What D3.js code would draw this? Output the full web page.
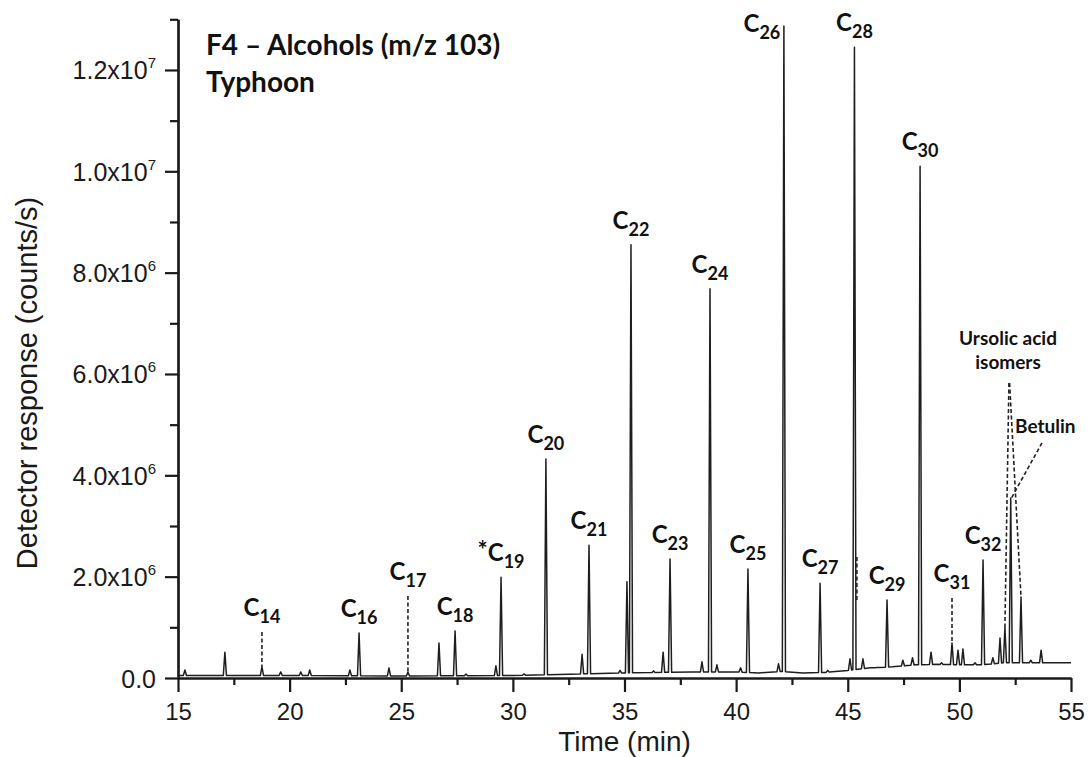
<!DOCTYPE html>
<html>
<head>
<meta charset="utf-8">
<script src="https://cdn.jsdelivr.net/npm/d3@7"></script>
<style>
  html, body { margin: 0; padding: 0; background: #fff; }
  svg { display: block; }
  .ax { font-family: "Liberation Sans", Arial, sans-serif; fill: #1a1a1a; }
  .note { font-family: Lato, "Open Sans", sans-serif; font-weight: 700; fill: #111; }
</style>
</head>
<body>
<svg id="chart" width="1089" height="757"></svg>
<script>
"use strict";

/********/
/* data */
/********/

// retention time (min) and apex response (counts/s) of every visible peak
const peakTimes = [
  15.31, 17.1, 18.76, 19.6, 20.5, 20.9, 22.7, 23.11, 24.45, 25.3,
  26.69, 27.41, 27.9, 29.24, 29.47, 30.5, 31.48, 33.1, 33.41, 34.8,
  35.11, 35.29, 36.3, 36.73, 37.04, 38.47, 38.83, 39.14, 40.2, 40.53,
  41.9, 42.14, 43.76, 44.1, 45.1, 45.3, 45.68, 46.3, 46.76, 47.47,
  47.9, 48.24, 48.73, 49.2, 49.67, 49.94, 50.16, 50.7, 51.06, 51.5,
  51.82, 52.04, 52.3, 52.76, 53.2, 53.66,
];
const peakHeights = [
  0.16e6, 0.51e6, 0.22e6, 0.12e6, 0.12e6, 0.16e6, 0.16e6, 0.89e6, 0.2e6, 0.12e6,
  0.69e6, 0.93e6, 0.08e6, 0.24e6, 1.99e6, 0.08e6, 4.32e6, 0.47e6, 2.62e6, 0.15e6,
  1.9e6, 8.55e6, 0.14e6, 0.51e6, 2.35e6, 0.32e6, 7.68e6, 0.26e6, 0.2e6, 2.15e6,
  0.28e6, 12.87e6, 1.87e6, 0.15e6, 0.38e6, 12.45e6, 0.38e6, 0.2e6, 1.54e6, 0.35e6,
  0.4e6, 10.1e6, 0.51e6, 0.3e6, 0.69e6, 0.55e6, 0.57e6, 0.3e6, 2.33e6, 0.4e6,
  0.79e6, 1.0e6, 3.55e6, 1.6e6, 0.35e6, 0.55e6,
];

// drifting baseline
const baseTimes = [15, 20, 25, 30, 33, 35, 38, 40, 41, 42, 43, 44, 45, 46, 47, 48, 49, 50, 51, 52, 53, 54, 55];
const baseValues = [
  0.05e6, 0.05e6, 0.04e6, 0.05e6, 0.08e6, 0.1e6, 0.12e6, 0.12e6, 0.1e6, 0.13e6,
  0.1e6, 0.11e6, 0.15e6, 0.2e6, 0.22e6, 0.26e6, 0.27e6, 0.26e6, 0.26e6, 0.3e6,
  0.3e6, 0.3e6, 0.3e6,
];

// n-alcohol homologues
const labelNumbers = ["14", "16", "17", "18", "19", "20", "21", "22", "23", "24", "25", "26", "27", "28", "29", "30", "31", "32"];
const labelTimes = [18.76, 23.11, 25.3, 27.41, 29.47, 31.48, 33.41, 35.29, 37.04, 38.83, 40.53, 42.14, 43.76, 45.3, 46.76, 48.24, 49.67, 51.06];

// dashed markers for small peaks: time, top, bottom
const leaderTimes = [18.76, 25.3, 49.67, 45.41];
const leaderTops = [0.91e6, 1.62e6, 1.58e6, 2.39e6];
const leaderBottoms = [0.22e6, 0.12e6, 0.69e6, 1.5e6];

// slanted leaders to the triterpenoids: [t1, v1, t2, v2]
const ursolicLeaders = [[52.22, 5.82e6, 52.04, 1.0e6], [52.25, 5.82e6, 52.76, 1.6e6]];
const betulinLeader = [53.7, 4.64e6, 52.33, 3.55e6];

const xTicks = [15, 20, 25, 30, 35, 40, 45, 50, 55];
const xMinorTicks = [17.5, 22.5, 27.5, 32.5, 37.5, 42.5, 47.5, 52.5];
const yTicks = [0, 2e6, 4e6, 6e6, 8e6, 10e6, 12e6];
const yMinorTicks = [1e6, 3e6, 5e6, 7e6, 9e6, 11e6, 13e6];
const yTickMantissas = ["0.0", "2.0", "4.0", "6.0", "8.0", "1.0", "1.2"];
const yTickExponents = ["", "6", "6", "6", "6", "7", "7"];

/**********/
/* scales */
/**********/

const svg = d3.select("#chart");
const x = d3.scaleLinear().domain([15, 55]).range([178, 1071]);
const y = d3.scaleLinear().domain([0, 13e6]).range([678, 19.3]);
const base = d3.scaleLinear().domain(baseTimes).range(baseValues);

/*********/
/* trace */
/*********/

const hw = 0.07;
const pts = baseTimes
  .filter(t => !peakTimes.some(p => Math.abs(t - p) <= hw))
  .map(t => [t, base(t)]);
peakTimes.forEach((t, i) => {
  pts.push([t - hw, base(t - hw)]);
  pts.push([t, Math.max(peakHeights[i], base(t))]);
  pts.push([t + hw, base(t + hw)]);
});
pts.sort((a, b) => a[0] - b[0]);

const line = d3.line().x(d => x(d[0])).y(d => y(d[1]));
svg.append("path")
  .attr("d", line(pts))
  .attr("fill", "none")
  .attr("stroke", "#1e1e1e")
  .attr("stroke-width", 1.5)
  .attr("stroke-linejoin", "round");

/********/
/* axes */
/********/

function styleAxis(g) {
  g.selectAll("path.domain").attr("stroke", "#1a1a1a").attr("stroke-width", 2.2);
  g.selectAll(".tick line").attr("stroke", "#1a1a1a").attr("stroke-width", 2.2);
  g.selectAll(".tick text").remove();
}

svg.append("g").attr("transform", "translate(0,678)")
  .call(d3.axisBottom(x).tickValues(xMinorTicks).tickSize(7).tickSizeOuter(0))
  .call(styleAxis);
const gx = svg.append("g").attr("transform", "translate(0,678)")
  .call(d3.axisBottom(x).tickValues(xTicks).tickSize(14).tickSizeOuter(0))
  .call(styleAxis);
gx.selectAll(".tick").append("text")
  .attr("class", "ax")
  .attr("y", 42)
  .attr("text-anchor", "middle")
  .attr("font-size", 24)
  .text(d => d);

svg.append("g").attr("transform", "translate(178,0)")
  .call(d3.axisLeft(y).tickValues(yMinorTicks).tickSize(8).tickSizeOuter(0))
  .call(styleAxis);
const gy = svg.append("g").attr("transform", "translate(178,0)")
  .call(d3.axisLeft(y).tickValues(yTicks).tickSize(13).tickSizeOuter(0))
  .call(styleAxis);
const yLab = gy.selectAll(".tick").append("text")
  .attr("class", "ax")
  .attr("x", -22)
  .attr("y", 9)
  .attr("text-anchor", "end")
  .attr("font-size", 25);
yLab.append("tspan").text((d, i) => yTickExponents[i] ? yTickMantissas[i] + "x10" : yTickMantissas[i]);
yLab.filter((d, i) => yTickExponents[i])
  .append("tspan")
  .attr("dy", -11)
  .attr("font-size", 15)
  .text(d => yTickExponents[yTicks.indexOf(d)]);

svg.append("text")
  .attr("class", "ax")
  .attr("x", 624.5)
  .attr("y", 751)
  .attr("text-anchor", "middle")
  .attr("font-size", 28)
  .text("Time (min)");

svg.append("text")
  .attr("class", "ax")
  .attr("transform", "translate(37,383) rotate(-90)")
  .attr("text-anchor", "middle")
  .attr("font-size", 29)
  .text("Detector response (counts/s)");

/***************/
/* annotations */
/***************/

const title = svg.append("text").attr("class", "note").attr("font-size", 28);
title.append("tspan").attr("x", 206).attr("y", 55).text("F4 \u2013 Alcohols (m/z 103)");
title.append("tspan").attr("x", 206).attr("y", 92).text("Typhoon");

const dash = "4,2.5";
leaderTimes.forEach((t, i) => {
  svg.append("line")
    .attr("x1", x(t)).attr("x2", x(t))
    .attr("y1", y(leaderTops[i])).attr("y2", y(leaderBottoms[i]))
    .attr("stroke", "#222").attr("stroke-width", 1.6)
    .attr("stroke-dasharray", dash);
});

ursolicLeaders.concat([betulinLeader]).forEach(l => {
  svg.append("line")
    .attr("x1", x(l[0])).attr("y1", y(l[1]))
    .attr("x2", x(l[2])).attr("y2", y(l[3]))
    .attr("stroke", "#222").attr("stroke-width", 1.6)
    .attr("stroke-dasharray", dash);
});

// label placement tweaks, in pixels
const labelShift = { "26": [-22, 22] };

labelNumbers.forEach((n, i) => {
  const t = labelTimes[i];
  const li = leaderTimes.indexOf(t);
  const pi = peakTimes.indexOf(t);
  const top = li >= 0 ? leaderTops[li] : peakHeights[pi];
  const shift = labelShift[n] || [0, 0];
  const label = svg.append("text")
    .attr("class", "note")
    .attr("x", x(t) + shift[0])
    .attr("y", y(top) - 16 + shift[1])
    .attr("text-anchor", "middle")
    .attr("font-size", 24);
  if (n === "19") label.append("tspan").attr("font-size", 24).attr("dy", -2).text("*");
  label.append("tspan").attr("dy", n === "19" ? 2 : 0).text("C");
  label.append("tspan").attr("font-size", 18).attr("dy", 7).text(n);
});

const ursolic = svg.append("text").attr("class", "note")
  .attr("text-anchor", "middle").attr("font-size", 19);
ursolic.append("tspan").attr("x", 1008).attr("y", 345).text("Ursolic acid");
ursolic.append("tspan").attr("x", 1008).attr("y", 369).text("isomers");

svg.append("text").attr("class", "note")
  .attr("x", 1015).attr("y", 433).attr("font-size", 19)
  .text("Betulin");
</script>
</body>
</html>
